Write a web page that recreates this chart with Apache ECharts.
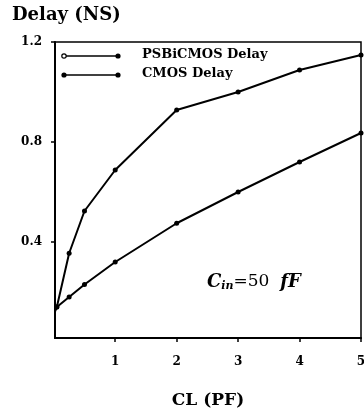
<!DOCTYPE html>
<html><head><meta charset="utf-8">
<script src="https://cdn.jsdelivr.net/npm/echarts@6/dist/echarts.min.js"></script>
<style>html,body{margin:0;padding:0;background:#fff}#c{width:364px;height:410px}</style>
</head><body><div id="c"></div>
<script>
const xTicks = [1, 2, 3, 4, 5];
const yTicks = [0.4, 0.8, 1.2];
const cmosX = [0, 0.05, 0.25, 0.5, 1, 2, 3, 4, 5];
const cmosY = [0.11, 0.14, 0.355, 0.524, 0.688, 0.928, 1.0, 1.088, 1.148];
const psbX = [0, 0.05, 0.25, 0.5, 1, 2, 3, 4, 5];
const psbY = [0.12, 0.14, 0.18, 0.23, 0.32, 0.475, 0.6, 0.72, 0.836];
const seriesNames = ['PSBiCMOS Delay', 'CMOS Delay'];

const font = 'DejaVu Serif';
const chart = echarts.init(document.getElementById('c'));
chart.setOption({
  backgroundColor: '#fff',
  animation: false,
  grid: {left: 55, right: 3, top: 42, bottom: 72, show: true, borderColor: '#000', borderWidth: 1.5,
         containLabel: false, outerBoundsMode: 'none'},
  xAxis: {
    type: 'value', min: 0.02, max: 5,
    axisLine: {show: true, lineStyle: {color: '#000', width: 2}},
    axisTick: {show: true, customValues: xTicks, length: 4, inside: false, lineStyle: {color: '#000', width: 1.5}},
    axisLabel: {customValues: xTicks, color: '#000', fontFamily: font, fontWeight: 'bold', fontSize: 12, margin: 18},
    splitLine: {show: false},
    name: 'CL (PF)', nameLocation: 'middle', nameGap: 54,
    nameTextStyle: {color: '#000', fontFamily: font, fontWeight: 'bold', fontSize: 17}
  },
  yAxis: {
    type: 'value', min: 0.016, max: 1.2,
    axisLine: {show: true, lineStyle: {color: '#000', width: 2}},
    axisTick: {show: true, customValues: yTicks, length: 4, lineStyle: {color: '#000', width: 1.5}},
    axisLabel: {customValues: yTicks, color: '#000', fontFamily: font, fontWeight: 'bold', fontSize: 12, margin: 13,
      formatter: v => v.toFixed(1)},
    splitLine: {show: false}
  },
  series: [
    {name: seriesNames[0], type: 'line', data: psbX.map((x, i) => [x, psbY[i]]),
     symbol: 'circle', symbolSize: 5, itemStyle: {color: '#000'}, lineStyle: {color: '#000', width: 2}},
    {name: seriesNames[1], type: 'line', data: cmosX.map((x, i) => [x, cmosY[i]]),
     symbol: 'circle', symbolSize: 5, itemStyle: {color: '#000'}, lineStyle: {color: '#000', width: 2}}
  ],
  graphic: [
    {type: 'text', left: 12, top: 6, style: {text: 'Delay (NS)', font: 'bold 18px "DejaVu Serif"', fill: '#000'}},
    {type: 'line', shape: {x1: 64, y1: 56, x2: 118, y2: 56}, style: {stroke: '#000', lineWidth: 1.5}},
    {type: 'circle', shape: {cx: 64, cy: 56, r: 2.2}, style: {fill: '#fff', stroke: '#000', lineWidth: 1.2}},
    {type: 'circle', shape: {cx: 118, cy: 56, r: 2.6}, style: {fill: '#000'}},
    {type: 'text', left: 142, top: 48, style: {text: seriesNames[0], font: 'bold 13px "DejaVu Serif"', fill: '#000'}},
    {type: 'line', shape: {x1: 64, y1: 75, x2: 118, y2: 75}, style: {stroke: '#000', lineWidth: 1.5}},
    {type: 'circle', shape: {cx: 64, cy: 75, r: 2.6}, style: {fill: '#000'}},
    {type: 'circle', shape: {cx: 118, cy: 75, r: 2.6}, style: {fill: '#000'}},
    {type: 'text', left: 142, top: 67, style: {text: seriesNames[1], font: 'bold 13px "DejaVu Serif"', fill: '#000'}},
    {type: 'text', left: 207, top: 273, style: {
      text: '{c|C}{s|in}{n|=50  }{c|fF}',
      rich: {
        c: {font: 'italic bold 18px "DejaVu Serif"', fill: '#000'},
        s: {font: 'italic bold 11px "DejaVu Serif"', fill: '#000', padding: [9, 0, 0, 0]},
        n: {font: '17px "DejaVu Serif"', fill: '#000'}
      }}}
  ]
});
</script></body></html>
